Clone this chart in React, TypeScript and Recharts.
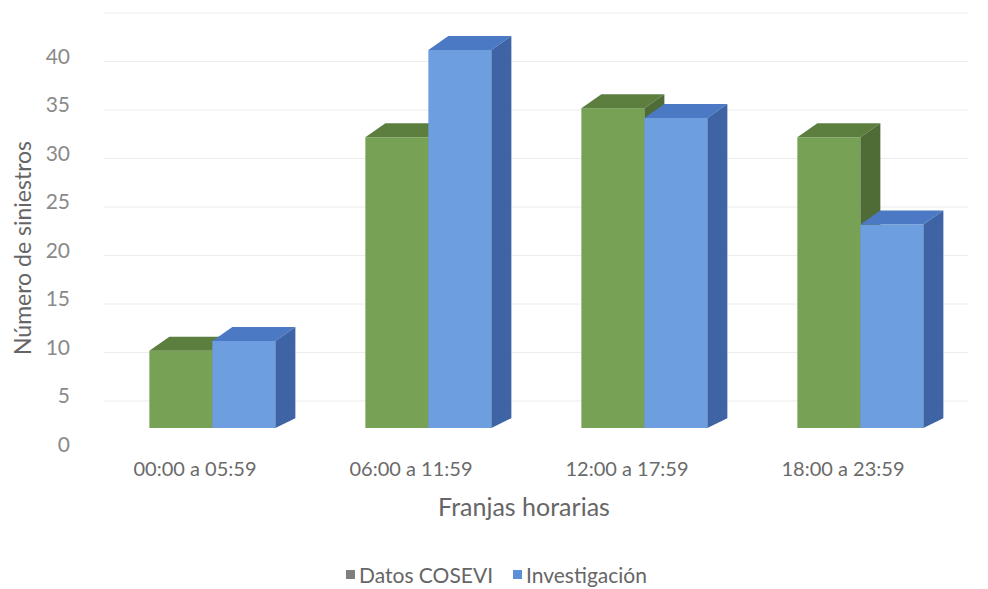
import React from "react";
import { BarChart, Bar, XAxis, YAxis, CartesianGrid } from "recharts";

const CATEGORIES = ["00:00 a 05:59", "06:00 a 11:59", "12:00 a 17:59", "18:00 a 23:59"];
const COSEVI = [9, 31, 34, 31];
const INVESTIGACION = [10, 40, 33, 22];
const Y_TICKS = [0, 5, 10, 15, 20, 25, 30, 35, 40];

const data = CATEGORIES.map((name, i) => ({
  name,
  cosevi: COSEVI[i],
  investigacion: INVESTIGACION[i],
}));

const GREEN = { front: "#77a155", top: "#5c7f40", side: "#4f6c37" };
const BLUE = { front: "#6c9ee0", top: "#4b79c3", side: "#3e64a5" };

// fake 3d depth
const DX = 20;
const DY = 14;
const FLOOR = 10;

const FONT = "Lato, 'Open Sans', sans-serif";

function Box3D(props: any) {
  const { x, y, width, height, colors } = props;
  if (width == null || height == null) return null;
  const yb = y + height - FLOOR;
  const r = x + width;
  return (
    <g>
      <rect x={x} y={y} width={width} height={Math.max(0, yb - y)} fill={colors.front} />
      <polygon
        points={`${x},${y} ${x + DX},${y - DY} ${r + DX},${y - DY} ${r},${y}`}
        fill={colors.top}
      />
      <polygon
        points={`${r},${y} ${r + DX},${y - DY} ${r + DX},${yb - DY * 0.7} ${r},${yb}`}
        fill={colors.side}
      />
    </g>
  );
}

function XTick(props: any) {
  const { x, y, payload } = props;
  return (
    <text
      x={x - 17}
      y={y + 30}
      textAnchor="middle"
      dominantBaseline="central"
      fontSize={20}
      fontFamily={FONT}
      fill="#6a6a6a"
    >
      {payload.value}
    </text>
  );
}

function YTick(props: any) {
  const { x, y, payload } = props;
  return (
    <text
      x={x - 34}
      y={y + 5}
      textAnchor="end"
      dominantBaseline="central"
      fontSize={21}
      fontFamily={FONT}
      fill="#8a8a8a"
    >
      {payload.value}
    </text>
  );
}

// back wall gridlines sit a bit higher than the bar front faces
const gridCoords = ({ yAxis }: any) => {
  const s = yAxis?.scale;
  const f = typeof s === "function" ? s : s?.map;
  if (!f) return [];
  return Y_TICKS.map((v) => f(v) - 37);
};

export default function App() {
  return (
    <div
      style={{
        position: "absolute",
        left: 0,
        top: 0,
        width: 988,
        height: 589,
        background: "#fff",
        fontFamily: FONT,
      }}
    >
      <BarChart
        width={988}
        height={589}
        data={data}
        margin={{ top: 50, right: 20, bottom: 91, left: 0 }}
        barCategoryGap="21%"
        barGap={0}
      >
        <CartesianGrid
          vertical={false}
          stroke="#ececec"
          horizontalCoordinatesGenerator={gridCoords}
        />
        <XAxis
          dataKey="name"
          axisLine={false}
          tickLine={false}
          tickSize={0}
          tickMargin={0}
          height={60}
          tick={<XTick />}
          label={(p: any) => {
            const vb = p.viewBox;
            return (
              <text
                x={vb.x + vb.width / 2 - 12}
                y={vb.y + 68}
                textAnchor="middle"
                dominantBaseline="central"
                fontSize={25}
                fontFamily={FONT}
                fill="#666"
              >
                Franjas horarias
              </text>
            );
          }}
        />
        <YAxis
          width={104}
          domain={[0, 40]}
          ticks={Y_TICKS}
          axisLine={false}
          tickLine={false}
          tickSize={0}
          tickMargin={0}
          tick={<YTick />}
          label={(p: any) => {
            const vb = p.viewBox;
            const cx = vb.x + 22;
            const cy = vb.y + vb.height / 2 + 4;
            return (
              <text
                x={cx}
                y={cy}
                transform={`rotate(-90 ${cx} ${cy})`}
                textAnchor="middle"
                dominantBaseline="central"
                fontSize={23}
                fontFamily={FONT}
                fill="#666"
              >
                Número de siniestros
              </text>
            );
          }}
        />
        <Bar
          dataKey="cosevi"
          name="Datos COSEVI"
          isAnimationActive={false}
          shape={(p: any) => <Box3D {...p} colors={GREEN} />}
        />
        <Bar
          dataKey="investigacion"
          name="Investigación"
          isAnimationActive={false}
          shape={(p: any) => <Box3D {...p} colors={BLUE} />}
        />
      </BarChart>
      <div
        style={{
          position: "absolute",
          left: 346,
          top: 562,
          display: "flex",
          alignItems: "center",
          fontSize: 21,
          color: "#666",
          whiteSpace: "nowrap",
        }}
      >
        <span style={{ width: 9, height: 9, background: "#7f7f7f", marginRight: 4 }} />
        <span>Datos COSEVI</span>
        <span style={{ width: 9, height: 9, background: "#5b8fd8", marginLeft: 20, marginRight: 4 }} />
        <span>Investigación</span>
      </div>
    </div>
  );
}
